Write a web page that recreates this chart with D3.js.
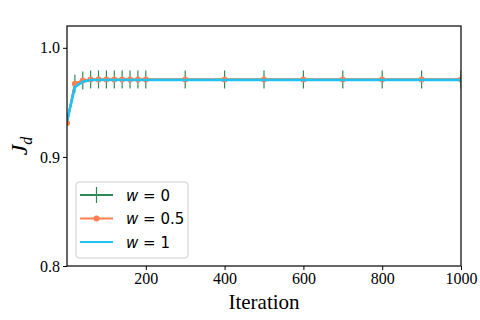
<!DOCTYPE html>
<html>
<head>
<meta charset="utf-8">
<script src="https://cdn.jsdelivr.net/npm/d3@7"></script>
<style>
	body { margin: 0; background: #fff; }
</style>
</head>
<body>
<div id="chart"></div>
<script>
var iterations = [0, 20, 40, 60, 80, 100, 120, 140, 160, 180, 200, 300, 400, 500, 600, 700, 800, 900, 1000];
var jdW0 = [0.931, 0.967, 0.970, 0.971, 0.971, 0.971, 0.971, 0.971, 0.971, 0.971, 0.971, 0.971, 0.971, 0.971, 0.971, 0.971, 0.971, 0.971, 0.971];
var jdW05 = [0.931, 0.967, 0.970, 0.971, 0.971, 0.971, 0.971, 0.971, 0.971, 0.971, 0.971, 0.971, 0.971, 0.971, 0.971, 0.971, 0.971, 0.971, 0.971];
var jdW1 = [0.933, 0.964, 0.969, 0.9705, 0.9705, 0.9705, 0.9705, 0.9705, 0.9705, 0.9705, 0.9705, 0.9705, 0.9705, 0.9705, 0.9705, 0.9705, 0.9705, 0.9705, 0.9705];
var xTicks = [200, 400, 600, 800, 1000];
var yTicks = [0.8, 0.9, 1.0];
var seriesNames = ["0", "0.5", "1"];
var colors = ["#2e8b57", "#ff7f50", "#1ec3f2"];

var width = 480, height = 320;
var margin = {left: 67, right: 19, top: 26, bottom: 54};
var serif = "'Liberation Serif', 'Times New Roman', serif";

var svg = d3.select("#chart").append("svg")
	.attr("width", width)
	.attr("height", height);

var x = d3.scaleLinear().domain([0, 1000]).range([margin.left, width - margin.right]);
var y = d3.scaleLinear().domain([0.8, 1.02]).range([height - margin.bottom, margin.top]);

var series = [jdW0, jdW05, jdW1].map(function(vals, i) {
	return iterations.map(function(it, j) { return {x: it, y: vals[j]}; });
});

var line = d3.line().x(function(d) { return x(d.x); }).y(function(d) { return y(d.y); });

var plot = svg.append("g");
plot.append("clipPath").attr("id", "clip").append("rect")
	.attr("x", margin.left).attr("y", margin.top)
	.attr("width", width - margin.left - margin.right)
	.attr("height", height - margin.top - margin.bottom);
var inner = plot.append("g").attr("clip-path", "url(#clip)");

// w = 0 : line with vertical bar markers
inner.append("path").datum(series[0])
	.attr("d", line).attr("fill", "none")
	.attr("stroke", colors[0]).attr("stroke-width", 2);
inner.selectAll("line.vbar").data(series[0].slice(1)).enter().append("line")
	.classed("vbar", true)
	.attr("x1", function(d) { return x(d.x); })
	.attr("x2", function(d) { return x(d.x); })
	.attr("y1", function(d) { return y(d.y) - 9; })
	.attr("y2", function(d) { return y(d.y) + 9; })
	.attr("stroke", colors[0]).attr("stroke-width", 1.2);

// w = 0.5 : line with dots
inner.append("path").datum(series[1])
	.attr("d", line).attr("fill", "none")
	.attr("stroke", colors[1]).attr("stroke-width", 2);
inner.selectAll("circle.dot").data(series[1]).enter().append("circle")
	.classed("dot", true)
	.attr("cx", function(d) { return x(d.x); })
	.attr("cy", function(d) { return y(d.y); })
	.attr("r", 3)
	.attr("fill", colors[1]);

// w = 1 : plain line, drawn on top
inner.append("path").datum(series[2])
	.attr("d", line).attr("fill", "none")
	.attr("stroke", colors[2]).attr("stroke-width", 2.6);

// frame
svg.append("rect")
	.attr("x", margin.left).attr("y", margin.top)
	.attr("width", width - margin.left - margin.right)
	.attr("height", height - margin.top - margin.bottom)
	.attr("fill", "none").attr("stroke", "#000").attr("stroke-width", 1.2);

var xAxis = svg.append("g")
	.attr("transform", "translate(0," + (height - margin.bottom) + ")")
	.call(d3.axisBottom(x).tickValues(xTicks).tickSize(4).tickPadding(3).tickFormat(d3.format("d")));
var yAxis = svg.append("g")
	.attr("transform", "translate(" + margin.left + ",0)")
	.call(d3.axisLeft(y).tickValues(yTicks).tickSize(4).tickPadding(3).tickFormat(d3.format(".1f")));
[xAxis, yAxis].forEach(function(a) {
	a.select(".domain").remove();
	a.selectAll(".tick line").attr("stroke", "#000").attr("stroke-width", 1);
	a.selectAll(".tick text")
		.attr("fill", "#000")
		.style("font-family", serif)
		.style("font-size", "16px");
});

svg.append("text")
	.attr("x", (margin.left + width - margin.right) / 2)
	.attr("y", 309)
	.attr("text-anchor", "middle")
	.style("font-family", serif)
	.style("font-size", "21px")
	.text("Iteration");

svg.append("text")
	.attr("transform", "translate(27," + ((margin.top + height - margin.bottom) / 2) + ") rotate(-90)")
	.attr("text-anchor", "middle")
	.style("font-family", serif)
	.style("font-style", "italic")
	.style("font-size", "24px")
	.html("J<tspan font-size='16px' dy='5'>d</tspan>");

// legend
var legend = svg.append("g");
legend.append("rect")
	.attr("x", 76).attr("y", 182).attr("width", 112).attr("height", 76)
	.attr("rx", 3)
	.attr("fill", "#fff").attr("fill-opacity", 0.8)
	.attr("stroke", "#ccc").attr("stroke-width", 1);
var rows = legend.selectAll("g.row").data(seriesNames).enter().append("g")
	.classed("row", true)
	.attr("transform", function(d, i) { return "translate(80," + (195 + i * 23.5) + ")"; });
rows.append("line")
	.attr("x1", 0).attr("x2", 33).attr("y1", 0).attr("y2", 0)
	.attr("stroke", function(d, i) { return colors[i]; })
	.attr("stroke-width", 2);
rows.filter(function(d, i) { return i === 0; }).append("line")
	.attr("x1", 16.5).attr("x2", 16.5).attr("y1", -8).attr("y2", 8)
	.attr("stroke", colors[0]).attr("stroke-width", 1.2);
rows.filter(function(d, i) { return i === 1; }).append("circle")
	.attr("cx", 16.5).attr("cy", 0).attr("r", 3).attr("fill", colors[1]);
rows.append("text")
	.attr("x", 46).attr("y", 5.5)
	.style("font-family", "'DejaVu Sans', sans-serif")
	.style("font-size", "15px")
	.html(function(d) { return "<tspan font-style='italic'>w</tspan> = " + d; });
</script>
</body>
</html>
